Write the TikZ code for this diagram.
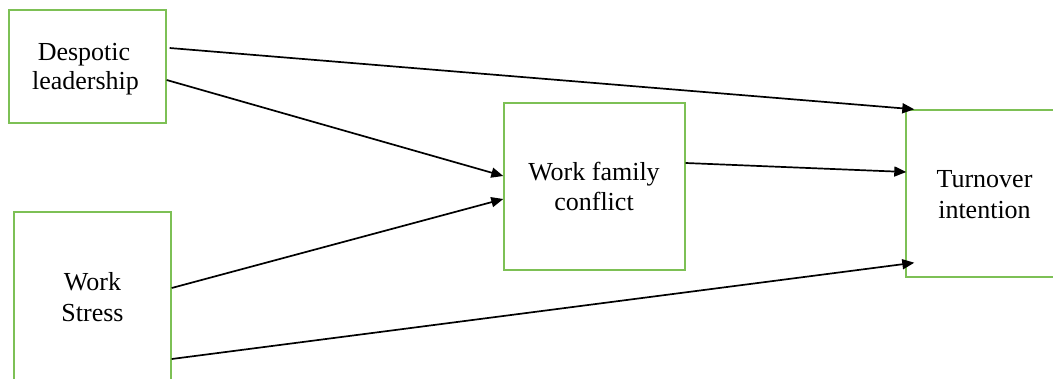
\documentclass[tikz,border=0pt]{standalone}
\usepackage{fontspec}
\setmainfont{Liberation Serif}
\usetikzlibrary{arrows.meta,calc}
\definecolor{boxgreen}{RGB}{125,192,85}
\tikzset{
  box/.style={draw=boxgreen,line width=1.4pt,rectangle,inner sep=0pt},
  lbl/.style={anchor=base,inner sep=0pt,font=\fontsize{26}{30}\selectfont,text=black},
  arr/.style={line width=1.7pt,-{Triangle[length=12pt,width=10pt]}}
}
\begin{document}
\begin{tikzpicture}[x=1pt,y=-1pt]
\clip (0,0) rectangle (1053,378);
\fill[white] (0,0) rectangle (1053,378);
\node[box,minimum width=157pt,minimum height=113pt] (dl) at (87.5,66.5) {};
\node[box,minimum width=157pt,minimum height=188pt] (ws) at (92.5,306) {};
\node[box,minimum width=181pt,minimum height=167pt] (wfc) at (594.5,186.5) {};
\node[box,minimum width=174pt,minimum height=167pt] (ti) at (993,193.5) {};
\node[lbl] (dl1) at (84,60) {Despotic};
\node[lbl] (dl2) at (85.5,89) {leadership};
\node[lbl] (ws1) at (92.5,290) {Work};
\node[lbl] (ws2) at (92.5,321) {Stress};
\node[lbl] (wfc1) at (594,180) {Work family};
\node[lbl] (wfc2) at (594,210) {conflict};
\node[lbl] (ti1) at (984.5,187) {Turnover};
\node[lbl] (ti2) at (984.5,218) {intention};
\draw[arr] ($(dl.east)+(3,-18.5)$) -- ($(ti.north west)+(9,0)$);
\draw[arr] ($(dl.east)+(0,13.5)$) -- ($(wfc.west)+(0,-10.5)$);
\draw[arr] ($(ws.east)+(0,-18)$) -- ($(wfc.west)+(0,12.5)$);
\draw[arr] ($(ws.east)+(0,53)$) -- ($(ti.south west)+(9,-15)$);
\draw[arr] ($(wfc.east)+(0,-23.5)$) -- ($(ti.west)+(1,-21.5)$);
\end{tikzpicture}
\end{document}
